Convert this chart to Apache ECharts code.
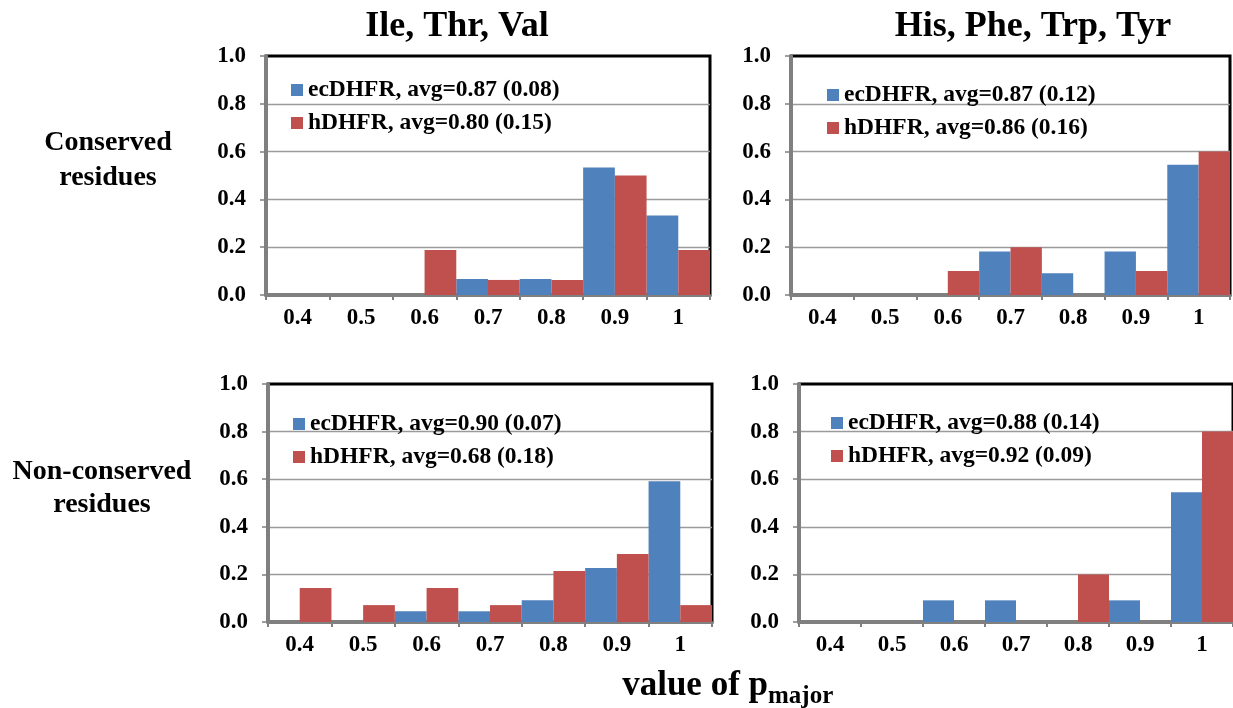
<!DOCTYPE html>
<html>
<head>
<meta charset="utf-8">
<script src="https://cdn.jsdelivr.net/npm/echarts@6/dist/echarts.min.js"></script>
<style>
  html, body { margin: 0; padding: 0; background: #fff; }
  #main { width: 1233px; height: 708px; }
</style>
</head>
<body>
<div id="main"></div>
<script>
// bins of p_major
var categories = ["0.4", "0.5", "0.6", "0.7", "0.8", "0.9", "1"];

// conserved residues
var consAliEc = [0, 0, 0, 0.067, 0.067, 0.533, 0.333];
var consAliH = [0, 0, 0.188, 0.063, 0.063, 0.5, 0.188];
var consAroEc = [0, 0, 0, 0.182, 0.091, 0.182, 0.545];
var consAroH = [0, 0, 0.1, 0.2, 0, 0.1, 0.6];

// non-conserved residues
var nonAliEc = [0, 0, 0.045, 0.045, 0.091, 0.227, 0.591];
var nonAliH = [0.143, 0.071, 0.143, 0.071, 0.214, 0.286, 0.071];
var nonAroEc = [0, 0, 0.091, 0.091, 0, 0.091, 0.545];
var nonAroH = [0, 0, 0, 0, 0.2, 0, 0.8];

var legendNames = [
  ["ecDHFR, avg=0.87 (0.08)", "hDHFR, avg=0.80 (0.15)"],
  ["ecDHFR, avg=0.87 (0.12)", "hDHFR, avg=0.86 (0.16)"],
  ["ecDHFR, avg=0.90 (0.07)", "hDHFR, avg=0.68 (0.18)"],
  ["ecDHFR, avg=0.88 (0.14)", "hDHFR, avg=0.92 (0.09)"],
];
var panelData = [
  [consAliEc, consAliH],
  [consAroEc, consAroH],
  [nonAliEc, nonAliH],
  [nonAroEc, nonAroH],
];

var FONT = "Liberation Serif";
var BLUE = "#4F81BD";
var RED = "#C0504D";

var dom = document.getElementById("main");
var myChart = echarts.init(dom, null, { renderer: "canvas" });

var grids = [
  { left: 266, top: 56, width: 444, height: 239 },
  { left: 791, top: 56, width: 439, height: 239 },
  { left: 268, top: 384, width: 444, height: 238 },
  { left: 799, top: 384, width: 436, height: 238 },
];
var legendPos = [
  { left: 286, top: 73 },
  { left: 822, top: 78 },
  { left: 288, top: 407 },
  { left: 826, top: 406 },
];

var xAxes = [], yAxes = [], series = [], legends = [];
grids.forEach(function (g, i) {
  g.show = true;
  g.borderColor = "#000";
  g.borderWidth = 3;
  g.backgroundColor = "#fff";
  xAxes.push({
    type: "category",
    gridIndex: i,
    data: categories,
    axisLine: { lineStyle: { color: "#808080", width: 3 } },
    axisTick: { show: true, length: 5, lineStyle: { color: "#808080", width: 2 } },
    axisLabel: {
      interval: 0,
      margin: 12,
      color: "#000",
      fontFamily: FONT,
      fontWeight: "bold",
      fontSize: 23,
    },
  });
  yAxes.push({
    type: "value",
    gridIndex: i,
    min: 0,
    max: 1,
    interval: 0.2,
    axisLine: { show: true, lineStyle: { color: "#808080", width: 3 } },
    axisTick: { show: true, length: 6, lineStyle: { color: "#808080", width: 1.5 } },
    splitLine: { showMaxLine: false, lineStyle: { color: "#9a9a9a", width: 1.3 } },
    axisLabel: {
      margin: 20,
      color: "#000",
      fontFamily: FONT,
      fontWeight: "bold",
      fontSize: 23,
      formatter: function (v) { return v.toFixed(1); },
    },
  });
  [0, 1].forEach(function (k) {
    series.push({
      type: "bar",
      name: legendNames[i][k],
      xAxisIndex: i,
      yAxisIndex: i,
      data: panelData[i][k],
      barGap: "0%",
      barCategoryGap: "0%",
      itemStyle: { color: k === 0 ? BLUE : RED },
    });
  });
  legends.push({
    left: legendPos[i].left,
    top: legendPos[i].top,
    orient: "vertical",
    itemWidth: 12,
    itemHeight: 12,
    itemGap: 9,
    icon: "rect",
    selectedMode: false,
    data: legendNames[i],
    textStyle: {
      color: "#000",
      fontFamily: FONT,
      fontWeight: "bold",
      fontSize: 23.5,
    },
  });
});

function label(text, x, y, size, align) {
  return {
    type: "text",
    x: x,
    y: y,
    style: {
      text: text,
      fill: "#000",
      font: "bold " + size + "px '" + FONT + "'",
      textAlign: align || "center",
      textVerticalAlign: "middle",
    },
  };
}

var option = {
  animation: false,
  backgroundColor: "#fff",
  grid: grids,
  xAxis: xAxes,
  yAxis: yAxes,
  legend: legends,
  series: series,
  graphic: [
    label("Ile, Thr, Val", 457, 27, 36),
    label("His, Phe, Trp, Tyr", 1033, 27, 36),
    label("Conserved", 108, 143, 28),
    label("residues", 108, 178, 28),
    label("Non-conserved", 102, 472, 28),
    label("residues", 102, 505, 28),
    label("value of p", 768, 686, 35, "right"),
    label("major", 768, 697, 25, "left"),
  ],
};

if (option && typeof option === "object") {
  myChart.setOption(option);
}
window.addEventListener("resize", myChart.resize);
</script>
</body>
</html>
